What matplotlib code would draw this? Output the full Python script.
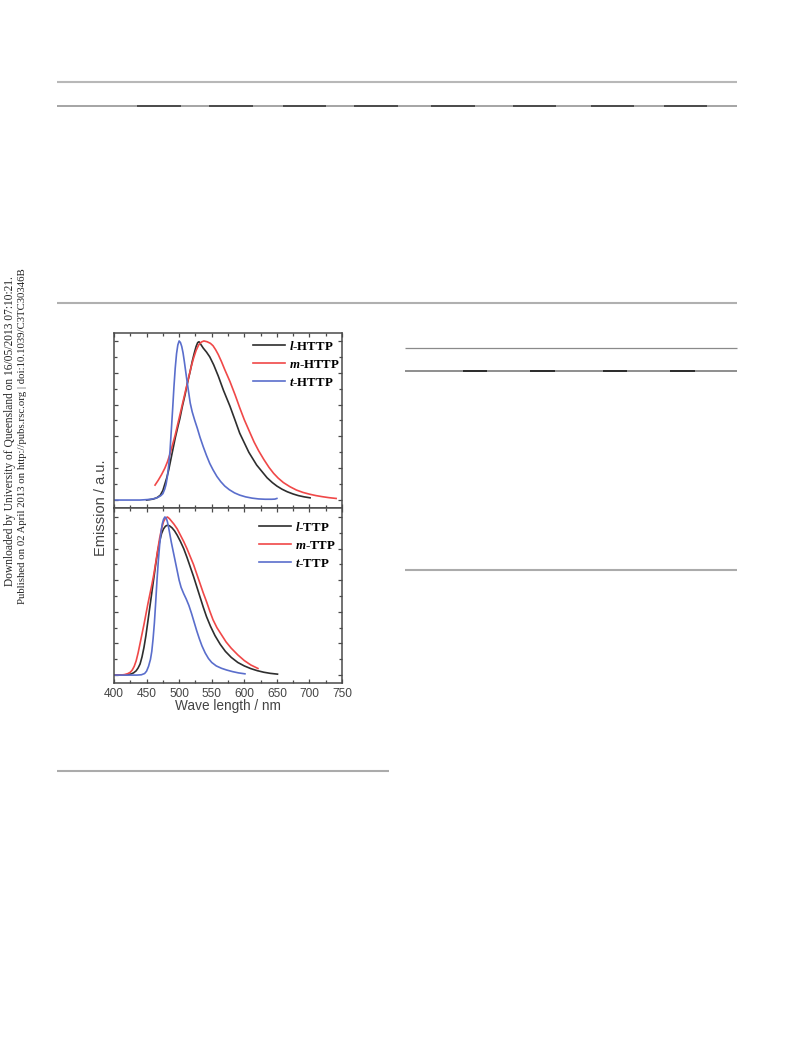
import matplotlib
matplotlib.use("Agg")
import matplotlib.pyplot as plt
from matplotlib.lines import Line2D
from matplotlib.ticker import MultipleLocator

plt.rcParams['mathtext.fontset'] = 'custom'
plt.rcParams['mathtext.it'] = 'Liberation Serif:italic:bold'
plt.rcParams['mathtext.rm'] = 'Liberation Serif:bold'

# ---------------- data ----------------
# top panel
l_HTTP_x = [450, 460, 466, 471, 475, 478, 481, 484, 487, 490, 494, 498, 501, 505, 509, 513, 517, 520, 523, 526, 528.5, 530.5, 533, 537, 542, 547, 553, 560, 568, 578, 586, 593, 600, 607, 613, 619, 627, 635, 643, 650, 658, 666, 675, 683, 692, 701]
l_HTTP_y = [0.0, 0.006, 0.015, 0.03, 0.06, 0.10, 0.14, 0.19, 0.25, 0.31, 0.39, 0.46, 0.51, 0.59, 0.66, 0.74, 0.81, 0.87, 0.92, 0.965, 0.99, 0.995, 0.98, 0.955, 0.93, 0.90, 0.85, 0.78, 0.69, 0.59, 0.50, 0.42, 0.36, 0.30, 0.26, 0.22, 0.18, 0.14, 0.11, 0.088, 0.068, 0.052, 0.038, 0.028, 0.02, 0.014]

m_HTTP_x = [463, 468, 473, 478, 482, 486, 490, 494, 498, 502, 506, 510, 514, 518, 522, 526, 530, 534, 538, 543, 548, 552, 556, 560, 565, 570, 578, 586, 593, 600, 608, 615, 622, 630, 638, 645, 652, 660, 670, 680, 690, 700, 710, 720, 730, 741]
m_HTTP_y = [0.094, 0.125, 0.16, 0.20, 0.24, 0.29, 0.35, 0.41, 0.48, 0.55, 0.62, 0.69, 0.76, 0.83, 0.89, 0.94, 0.975, 0.993, 1.0, 0.995, 0.985, 0.97, 0.945, 0.915, 0.87, 0.82, 0.745, 0.66, 0.58, 0.505, 0.43, 0.365, 0.31, 0.255, 0.205, 0.168, 0.138, 0.11, 0.084, 0.063, 0.048, 0.037, 0.028, 0.021, 0.015, 0.01]

t_HTTP_x = [400, 440, 455, 463, 468, 472, 475, 478, 480, 482, 484, 486, 488, 490, 492, 494, 496, 498, 500, 502, 504, 506, 508, 510, 512, 514.5, 517, 520, 524, 528, 532, 537, 542, 547, 552, 558, 564, 570, 577, 585, 593, 602, 612, 622, 632, 642, 647, 650]
t_HTTP_y = [0.0, 0.0, 0.004, 0.01, 0.018, 0.028, 0.04, 0.07, 0.10, 0.15, 0.22, 0.31, 0.44, 0.57, 0.71, 0.83, 0.92, 0.975, 1.0, 0.99, 0.965, 0.925, 0.87, 0.81, 0.75, 0.68, 0.61, 0.555, 0.50, 0.45, 0.395, 0.335, 0.28, 0.23, 0.19, 0.148, 0.115, 0.088, 0.065, 0.045, 0.031, 0.02, 0.012, 0.007, 0.005, 0.005, 0.006, 0.01]

# bottom panel
l_TTP_x = [400, 412, 420, 426, 430, 434, 437, 440, 443, 446, 449, 452, 455, 458, 461, 464, 467, 470, 473, 476, 479, 482, 485, 489, 493, 497, 502, 507, 512, 517, 522, 527, 532, 537, 542, 548, 555, 563, 571, 580, 590, 600, 610, 620, 630, 640, 651]
l_TTP_y = [0.0, 0.0, 0.002, 0.007, 0.014, 0.027, 0.045, 0.07, 0.115, 0.175, 0.25, 0.34, 0.43, 0.52, 0.61, 0.70, 0.78, 0.845, 0.895, 0.925, 0.942, 0.948, 0.945, 0.932, 0.912, 0.885, 0.845, 0.80, 0.745, 0.685, 0.625, 0.56, 0.495, 0.43, 0.37, 0.31, 0.25, 0.195, 0.15, 0.112, 0.08, 0.058, 0.041, 0.028, 0.018, 0.011, 0.006]

m_TTP_x = [400, 410, 416, 421, 425, 428, 431, 434, 437, 440, 443, 446, 449, 452, 455, 458, 461, 464, 467, 470, 473, 476, 479, 482, 485, 488, 492, 497, 502, 507, 512, 517, 522, 527, 532, 537, 542, 547, 552, 558, 565, 572, 580, 590, 600, 610, 621]
m_TTP_y = [0.0, 0.0, 0.003, 0.009, 0.018, 0.032, 0.055, 0.09, 0.14, 0.20, 0.26, 0.32, 0.385, 0.45, 0.51, 0.57, 0.635, 0.71, 0.79, 0.865, 0.925, 0.97, 0.993, 1.0, 0.99, 0.975, 0.955, 0.925, 0.885, 0.845, 0.80, 0.75, 0.70, 0.64, 0.58, 0.52, 0.465, 0.405, 0.35, 0.30, 0.255, 0.21, 0.17, 0.128, 0.092, 0.064, 0.042]

t_TTP_x = [400, 435, 442, 447, 450, 453, 456, 458, 460, 462, 464, 466, 468, 470, 472, 474, 476, 478, 480, 482, 484, 486, 488, 491, 494, 497, 500, 503, 507, 511, 515, 519, 523, 527, 531, 535, 540, 545, 550, 557, 565, 573, 582, 591, 601]
t_TTP_y = [0.0, 0.0, 0.002, 0.01, 0.025, 0.055, 0.10, 0.15, 0.23, 0.33, 0.46, 0.60, 0.72, 0.82, 0.90, 0.955, 0.985, 1.0, 0.995, 0.97, 0.93, 0.885, 0.84, 0.78, 0.72, 0.66, 0.60, 0.555, 0.515, 0.48, 0.44, 0.39, 0.335, 0.28, 0.23, 0.185, 0.14, 0.105, 0.08, 0.058, 0.043, 0.032, 0.022, 0.014, 0.008]

top_labels = [r'$l$-HTTP', r'$m$-HTTP', r'$t$-HTTP']
bottom_labels = [r'$l$-TTP', r'$m$-TTP', r'$t$-TTP']
xticks = [400, 450, 500, 550, 600, 650, 700, 750]
xlabel = 'Wave length / nm'
ylabel = 'Emission / a.u.'
side_line1 = 'Downloaded by University of Queensland on 16/05/2013 07:10:21.'
side_line2 = 'Published on 02 April 2013 on http://pubs.rsc.org | doi:10.1039/C3TC30346B'

colors = ['#2e2e2e', '#f04848', '#5a6ecc']

# ---------------- figure ----------------
W, H = 793, 1039
fig = plt.figure(figsize=(W / 100, H / 100), dpi=100)


def fx(px):
    return px / W


def fy(py):
    return 1 - py / H


def hline(y, x0, x1, color, lw):
    fig.add_artist(Line2D([fx(x0), fx(x1)], [fy(y), fy(y)], color=color, lw=lw,
                          transform=fig.transFigure, solid_capstyle='butt'))


# page rules
hline(82, 57, 737, '#b8b8b8', 1.5)
hline(106, 57, 737, '#8c8c8c', 1.1)
for a, b in [(137, 181), (209, 253), (283, 326), (354, 398), (431, 475), (513, 556), (591, 634), (664, 707)]:
    hline(106, a, b, '#333333', 1.1)
hline(303, 57, 737, '#b0b0b0', 1.5)
hline(348, 405, 737, '#8a8a8a', 0.9)
hline(371, 405, 737, '#707070', 1.1)
for a, b in [(463, 487), (530, 555), (603, 627), (670, 695)]:
    hline(371, a, b, '#111111', 1.1)
hline(570, 405, 737, '#ababab', 1.5)
hline(771, 57, 389, '#ababab', 1.5)

# side text
fig.text(fx(10.5), fy(431), side_line1, rotation=90, ha='center', va='center',
         family='Liberation Serif', fontsize=8.3, color='#222222')
fig.text(fx(22.5), fy(436), side_line2, rotation=90, ha='center', va='center',
         family='Liberation Serif', fontsize=7.75, color='#222222')

# axes
left, right = 114, 342
ax1 = fig.add_axes([fx(left), fy(508), (right - left) / W, 175 / H])
ax2 = fig.add_axes([fx(left), fy(683), (right - left) / W, 175 / H])

frame_c = '#4a4a4a'
for ax in (ax1, ax2):
    ax.set_xlim(400, 750)
    for s in ax.spines.values():
        s.set_color(frame_c)
        s.set_linewidth(1.1)
    ax.xaxis.set_major_locator(MultipleLocator(50))
    ax.xaxis.set_minor_locator(MultipleLocator(25))
    ax.yaxis.set_major_locator(MultipleLocator(0.2))
    ax.yaxis.set_minor_locator(MultipleLocator(0.1))
    ax.tick_params(which='both', direction='in', top=True, right=True,
                   color=frame_c, width=0.9, labelleft=False)
    ax.tick_params(which='major', length=3.2)
    ax.tick_params(which='minor', length=2.0)

ax1.set_ylim(-0.05, 1.05)
ax2.set_ylim(-0.05, 1.057)
ax1.tick_params(labelbottom=False)

for x, y, c, lab in zip([l_HTTP_x, m_HTTP_x, t_HTTP_x], [l_HTTP_y, m_HTTP_y, t_HTTP_y], colors, top_labels):
    ax1.plot(x, y, color=c, lw=1.2, label=lab)
for x, y, c, lab in zip([l_TTP_x, m_TTP_x, t_TTP_x], [l_TTP_y, m_TTP_y, t_TTP_y], colors, bottom_labels):
    ax2.plot(x, y, color=c, lw=1.2, label=lab)

ax2.set_xticks(xticks)
ax2.set_xticklabels([str(v) for v in xticks], family='Liberation Sans', fontsize=8.6, color='#444444')
ax2.tick_params(axis='x', pad=3.5)

leg_kw = dict(frameon=False, loc='upper left', borderpad=0, borderaxespad=0,
              handlelength=2.45, handletextpad=0.3, labelspacing=0.45,
              prop={'family': 'Liberation Serif', 'weight': 'bold', 'size': 9.3})
ax1.legend(bbox_to_anchor=((253 - left) / 228, (508 - 340) / 175), **leg_kw)
ax2.legend(bbox_to_anchor=((259 - left) / 228, (683 - 521) / 175), **leg_kw)

fig.text(fx(228), fy(706), xlabel, ha='center', va='center',
         family='Liberation Sans', fontsize=9.8, color='#444444')
fig.text(fx(101), fy(508), ylabel, ha='center', va='center', rotation=90,
         family='Liberation Sans', fontsize=10.5, color='#444444')

fig.savefig('out.png', dpi=100)
